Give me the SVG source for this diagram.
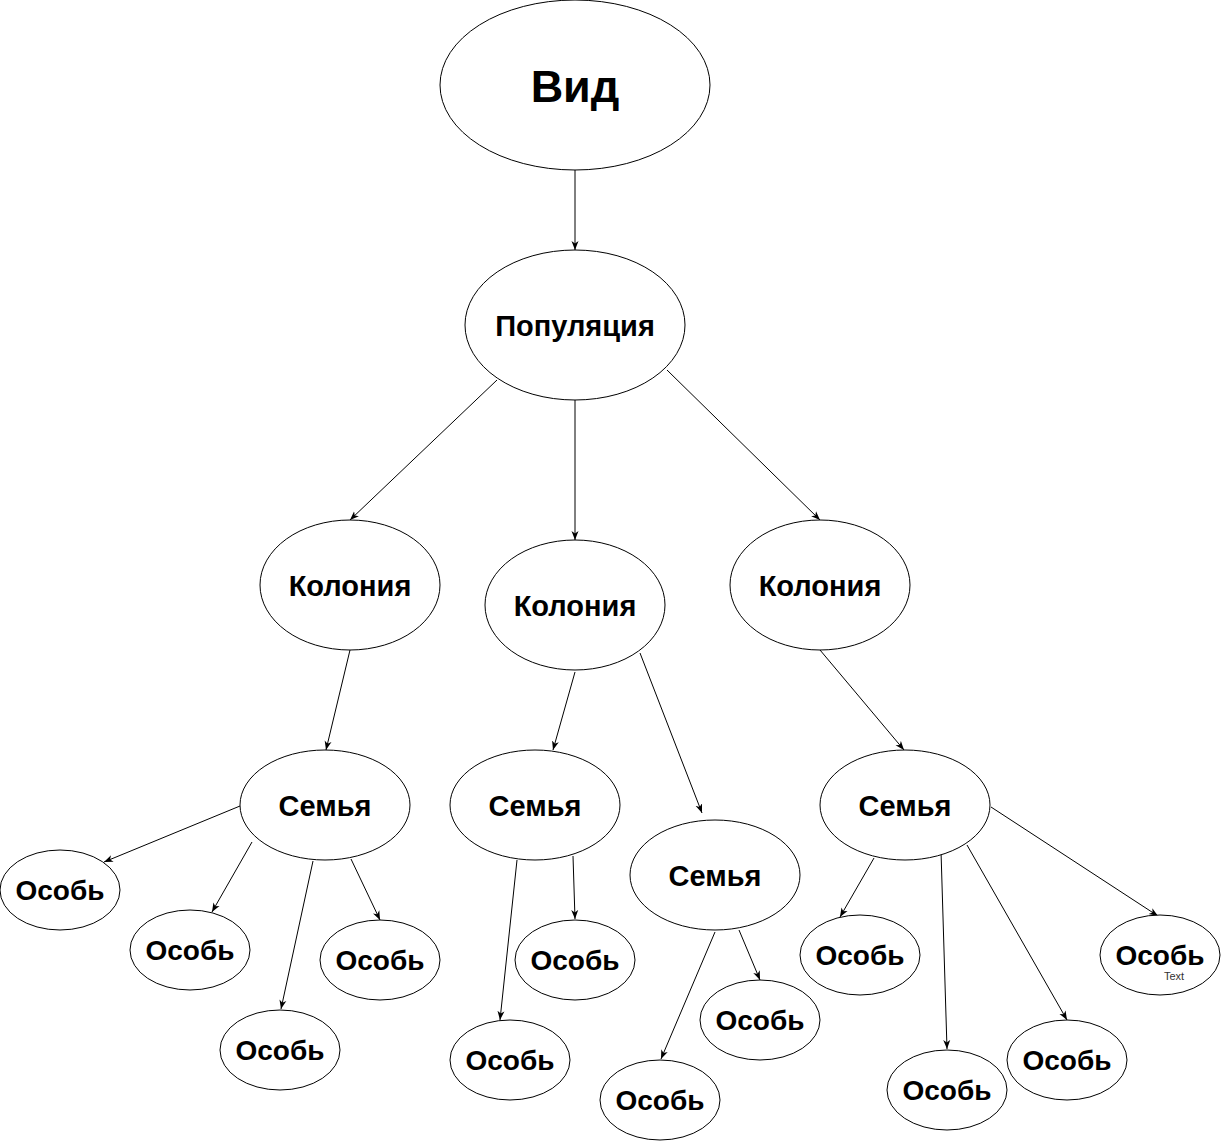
<svg xmlns="http://www.w3.org/2000/svg" width="1221" height="1141" viewBox="0 0 1221 1141">
<style>
.n{fill:#fff;stroke:#000;stroke-width:1}
.t{font-family:"Liberation Sans",Arial,sans-serif;font-weight:bold;font-size:28px;text-anchor:middle;fill:#000}
.m{font-size:29px}
.big{font-size:45px}
.small{font-family:"Liberation Sans",Arial,sans-serif;font-size:11px;text-anchor:middle;fill:#333}
.c line{stroke:#000;stroke-width:1;marker-end:url(#a)}
</style>
<defs>
<marker id="a" markerUnits="userSpaceOnUse" markerWidth="10" markerHeight="8" refX="9" refY="4" orient="auto">
<path d="M0,0.5 L9,4 L0,7.5 L2.5,4 Z" fill="#000"/>
</marker>
</defs>
<rect width="1221" height="1141" fill="#fff"/>
<g class="c" id="connectors">
<line x1="575" y1="170" x2="575" y2="250"/>
<line x1="497" y1="380" x2="350" y2="520"/>
<line x1="575" y1="400" x2="575" y2="540"/>
<line x1="667" y1="370" x2="820" y2="520"/>
<line x1="350" y1="650" x2="326" y2="750"/>
<line x1="575" y1="672" x2="553" y2="750"/>
<line x1="640" y1="653" x2="702" y2="813"/>
<line x1="820" y1="650" x2="904" y2="750"/>
<line x1="240" y1="806" x2="104" y2="862"/>
<line x1="252" y1="842" x2="212" y2="912"/>
<line x1="313" y1="861" x2="281" y2="1009"/>
<line x1="351" y1="859" x2="380" y2="920"/>
<line x1="517" y1="860" x2="500" y2="1020"/>
<line x1="573" y1="856" x2="575" y2="919"/>
<line x1="715" y1="932" x2="661" y2="1059"/>
<line x1="739" y1="930" x2="760" y2="980"/>
<line x1="874" y1="858" x2="840" y2="917"/>
<line x1="941" y1="851" x2="947" y2="1049"/>
<line x1="967" y1="845" x2="1067" y2="1020"/>
<line x1="991" y1="807" x2="1158" y2="916"/>
</g>
<g id="vid"><ellipse class="n" cx="575" cy="85" rx="135" ry="85"/><text class="t big" x="575" y="102">Вид</text></g>
<g id="population"><ellipse class="n" cx="575" cy="325" rx="110" ry="75"/><text class="t m" x="575" y="336">Популяция</text></g>
<g id="colony1"><ellipse class="n" cx="350" cy="585" rx="90" ry="65"/><text class="t m" x="350" y="596">Колония</text></g>
<g id="colony2"><ellipse class="n" cx="575" cy="605" rx="90" ry="65"/><text class="t m" x="575" y="616">Колония</text></g>
<g id="colony3"><ellipse class="n" cx="820" cy="585" rx="90" ry="65"/><text class="t m" x="820" y="596">Колония</text></g>
<g id="family1"><ellipse class="n" cx="325" cy="805" rx="85" ry="55"/><text class="t m" x="325" y="816">Семья</text></g>
<g id="family2"><ellipse class="n" cx="535" cy="805" rx="85" ry="55"/><text class="t m" x="535" y="816">Семья</text></g>
<g id="family3"><ellipse class="n" cx="715" cy="875" rx="85" ry="55"/><text class="t m" x="715" y="886">Семья</text></g>
<g id="family4"><ellipse class="n" cx="905" cy="805" rx="85" ry="55"/><text class="t m" x="905" y="816">Семья</text></g>
<g id="ind1"><ellipse class="n" cx="60" cy="890" rx="60" ry="40"/><text class="t" x="60" y="900">Особь</text></g>
<g id="ind2"><ellipse class="n" cx="190" cy="950" rx="60" ry="40"/><text class="t" x="190" y="960">Особь</text></g>
<g id="ind3"><ellipse class="n" cx="380" cy="960" rx="60" ry="40"/><text class="t" x="380" y="970">Особь</text></g>
<g id="ind4"><ellipse class="n" cx="280" cy="1050" rx="60" ry="40"/><text class="t" x="280" y="1060">Особь</text></g>
<g id="ind5"><ellipse class="n" cx="575" cy="960" rx="60" ry="40"/><text class="t" x="575" y="970">Особь</text></g>
<g id="ind6"><ellipse class="n" cx="510" cy="1060" rx="60" ry="40"/><text class="t" x="510" y="1070">Особь</text></g>
<g id="ind7"><ellipse class="n" cx="760" cy="1020" rx="60" ry="40"/><text class="t" x="760" y="1030">Особь</text></g>
<g id="ind8"><ellipse class="n" cx="660" cy="1100" rx="60" ry="40"/><text class="t" x="660" y="1110">Особь</text></g>
<g id="ind9"><ellipse class="n" cx="860" cy="955" rx="60" ry="40"/><text class="t" x="860" y="965">Особь</text></g>
<g id="ind10"><ellipse class="n" cx="947" cy="1090" rx="60" ry="40"/><text class="t" x="947" y="1100">Особь</text></g>
<g id="ind11"><ellipse class="n" cx="1067" cy="1060" rx="60" ry="40"/><text class="t" x="1067" y="1070">Особь</text></g>
<g id="ind12"><ellipse class="n" cx="1160" cy="955" rx="60" ry="40"/><text class="t" x="1160" y="965">Особь</text><text class="small" x="1174" y="980">Text</text></g>
</svg>
